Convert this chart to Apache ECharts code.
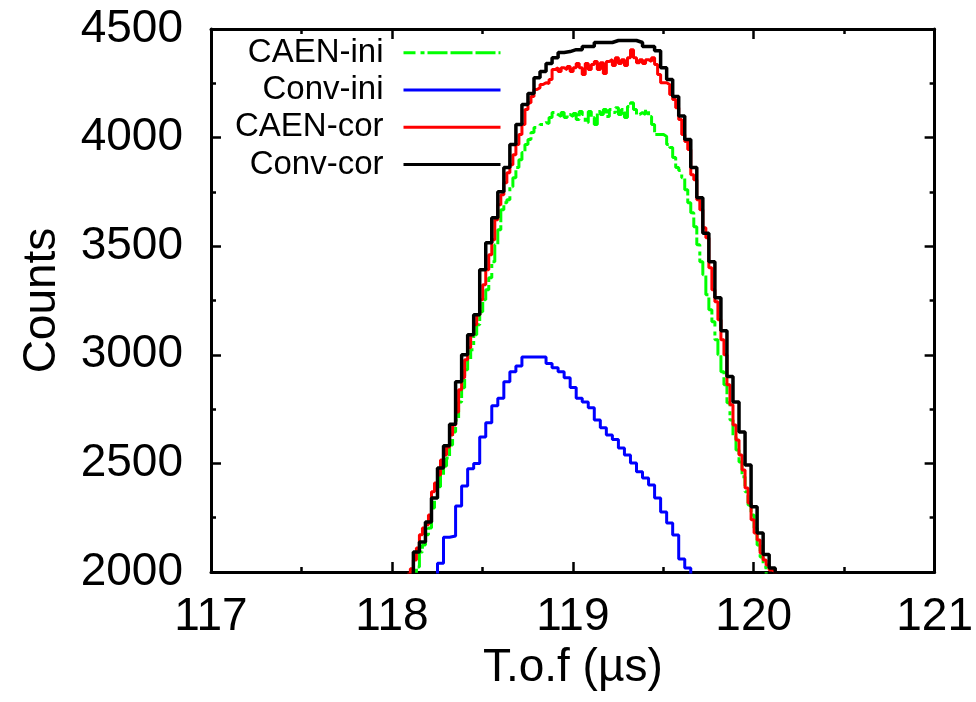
<!DOCTYPE html>
<html>
<head>
<meta charset="utf-8">
<script src="https://cdn.jsdelivr.net/npm/echarts@6/dist/echarts.min.js"></script>
<style>
  html, body { margin: 0; padding: 0; background: #ffffff; }
  #chart { width: 976px; height: 702px; }
</style>
</head>
<body>
<div id="chart"></div>
<script>
// ---------- data ----------
const seriesNames = ['CAEN-ini', 'Conv-ini', 'CAEN-cor', 'Conv-cor'];
const xTicks = [117, 118, 119, 120, 121];
const yTicks = [2000, 2500, 3000, 3500, 4000, 4500];

// histogram bin layout (µs)
const coarseStart = 118.0854;      // first coarse bin left edge
const coarseWidth = 1 / 30;        // Conv histograms bin width
const fineStart = 118.0854;        // first fine bin left edge
const fineWidth = 1 / 60;          // CAEN histograms bin width
const convIniStart = 118.2187;     // first listed Conv-ini bin

// Conv-cor (black), coarse bins
const convCor = [1950,
  2092, 2138, 2230, 2341, 2479, 2581, 2680, 2876, 3000, 3092,
  3184, 3392, 3516, 3631, 3751, 3862, 3968, 4060, 4152, 4203,
  4276, 4304, 4341, 4368, 4392, 4396, 4405, 4405, 4419, 4419,
  4438, 4438, 4438, 4447, 4447, 4447, 4447, 4438, 4419, 4419,
  4400, 4322, 4267, 4189, 4100, 3991, 3862, 3723, 3560, 3428,
  3263, 3111, 2900, 2783, 2645, 2493, 2300, 2180, 2080, 2018,
  1950];

// Conv-ini (blue), coarse bins
const convIni = [1960, 2040, 2160, 2166, 2304, 2396, 2475, 2500, 2622, 2687,
  2765, 2800, 2876, 2922, 2949, 2990, 2990, 2990, 2990, 2960,
  2940, 2922, 2894, 2850, 2800, 2783, 2756, 2700, 2664, 2631,
  2610, 2571, 2539, 2502, 2461, 2433, 2401, 2341, 2276, 2226,
  2170, 2060, 2018, 1950];

// CAEN-cor (red), fine bins
const caenCor = [1990, 2015,
  2055, 2110, 2171, 2203, 2217, 2263, 2369, 2410, 2447, 2516,
  2539, 2576, 2631, 2677, 2737, 2839, 2894, 2977, 3032, 3092,
  3138, 3184, 3253, 3322, 3392, 3461, 3530, 3622, 3691, 3737,
  3792, 3838, 3875, 3921, 3968, 4014, 4060, 4129, 4161, 4189,
  4221, 4230, 4244, 4253, 4249, 4267, 4313, 4322, 4304, 4322,
  4313, 4327, 4304, 4322, 4341, 4322, 4290, 4341, 4313, 4336,
  4350, 4313, 4345, 4295, 4350, 4359, 4332, 4368, 4341, 4359,
  4332, 4368, 4405, 4368, 4345, 4359, 4341, 4359, 4350, 4368,
  4336, 4290, 4253, 4253, 4244, 4198, 4175, 4138, 4083, 4014,
  3982, 3945, 3829, 3806, 3714, 3668, 3585, 3539, 3401, 3299,
  3244, 3161, 3069, 3000, 2862, 2770, 2677, 2608, 2539, 2470,
  2387, 2318, 2240, 2180, 2147, 2088, 2055, 2032, 2009, 2003,
  1980];

// CAEN-ini (green), fine bins
const caenIni = [1960, 1980,
  1990, 2023, 2092, 2124, 2171, 2203, 2295, 2332, 2392, 2447,
  2488, 2525, 2585, 2645, 2700, 2783, 2848, 2931, 2977, 3023,
  3092, 3138, 3198, 3253, 3299, 3355, 3428, 3507, 3576, 3668,
  3700, 3714, 3774, 3815, 3862, 3898, 3931, 3968, 3991, 4023,
  4046, 4050, 4060, 4069, 4065, 4092, 4115, 4106, 4097, 4115,
  4092, 4106, 4097, 4111, 4083, 4120, 4106, 4069, 4120, 4092,
  4060, 4120, 4106, 4129, 4097, 4129, 4115, 4138, 4106, 4129,
  4092, 4143, 4161, 4129, 4106, 4115, 4106, 4129, 4097, 4060,
  4014, 4014, 4014, 4005, 3968, 3954, 3908, 3862, 3848, 3815,
  3760, 3700, 3654, 3590, 3507, 3428, 3369, 3276, 3207, 3152,
  3069, 3000, 2922, 2862, 2779, 2700, 2622, 2562, 2507, 2438,
  2369, 2309, 2263, 2203, 2124, 2069, 2023,
  1980];

// ---------- build ----------
function toSteps(start, width, counts) {
  const pts = counts.map((c, i) => [start + i * width, c]);
  pts.push([start + counts.length * width, counts[counts.length - 1]]);
  return pts;
}

const FONT = '"Liberation Sans", Arial, Helvetica, sans-serif';
const chart = echarts.init(document.getElementById('chart'), null, { renderer: 'canvas' });

const axisLine = { show: true, onZero: false, lineStyle: { color: '#000', width: 3 } };
const tickMajor = { show: true, inside: true, length: 10, lineStyle: { color: '#000', width: 2.5 } };
const tickMinor = { show: true, splitNumber: 2, length: 5, lineStyle: { color: '#000', width: 2.5 } };
const plainNum = v => String(v);

const option = {
  backgroundColor: '#ffffff',
  animation: false,
  grid: { left: 211, right: 32, top: 29, bottom: 130, containLabel: false },
  legend: {
    data: seriesNames,
    orient: 'vertical',
    align: 'right',
    right: 474,
    top: 34,
    padding: 0,
    itemWidth: 97,
    itemHeight: 14,
    itemGap: 0,
    selectedMode: false,
    itemStyle: { color: 'rgba(0,0,0,0)', borderColor: 'rgba(0,0,0,0)', borderWidth: 0 },
    lineStyle: { width: 3 },
    textStyle: { fontFamily: FONT, fontSize: 33, color: '#000', lineHeight: 37.3, padding: [0, 15, 0, 0] }
  },
  xAxis: [
    {
      type: 'value', position: 'bottom', min: xTicks[0], max: xTicks[xTicks.length - 1], interval: 1,
      axisLine: axisLine, axisTick: tickMajor, minorTick: tickMinor,
      splitLine: { show: false }, minorSplitLine: { show: false },
      axisLabel: { fontFamily: FONT, fontSize: 46, color: '#000', margin: 22, formatter: plainNum },
      name: 'T.o.f (µs)', nameLocation: 'middle', nameGap: 70,
      nameTextStyle: { fontFamily: FONT, fontSize: 46, color: '#000' }
    },
    {
      type: 'value', position: 'top', min: xTicks[0], max: xTicks[xTicks.length - 1], interval: 1,
      axisLine: axisLine, axisTick: tickMajor, minorTick: tickMinor,
      splitLine: { show: false }, axisLabel: { show: false }
    }
  ],
  yAxis: [
    {
      type: 'value', position: 'left', min: yTicks[0], max: yTicks[yTicks.length - 1], interval: 500,
      axisLine: axisLine, axisTick: tickMajor, minorTick: tickMinor,
      splitLine: { show: false },
      axisLabel: { fontFamily: FONT, fontSize: 46, color: '#000', margin: 28, formatter: plainNum },
      name: 'Counts', nameLocation: 'middle', nameGap: 146, nameRotate: 90,
      nameTextStyle: { fontFamily: FONT, fontSize: 46, color: '#000' }
    },
    {
      type: 'value', position: 'right', min: yTicks[0], max: yTicks[yTicks.length - 1], interval: 500,
      axisLine: axisLine, axisTick: tickMajor, minorTick: tickMinor,
      splitLine: { show: false }, axisLabel: { show: false }
    }
  ],
  series: [
    {
      name: seriesNames[0], type: 'line', step: 'end', symbol: 'none', z: 2,
      data: toSteps(fineStart, fineWidth, caenIni),
      lineStyle: { color: '#00ff00', width: 3, type: [12, 5, 4, 3, 20, 3, 22, 3, 20, 3] },
      itemStyle: { color: '#00ff00' }
    },
    {
      name: seriesNames[1], type: 'line', step: 'end', symbol: 'none', z: 4,
      data: toSteps(convIniStart, coarseWidth, convIni),
      lineStyle: { color: '#0000ff', width: 3 },
      itemStyle: { color: '#0000ff' }
    },
    {
      name: seriesNames[2], type: 'line', step: 'end', symbol: 'none', z: 3,
      data: toSteps(fineStart, fineWidth, caenCor),
      lineStyle: { color: '#ff0000', width: 3 },
      itemStyle: { color: '#ff0000' }
    },
    {
      name: seriesNames[3], type: 'line', step: 'end', symbol: 'none', z: 5,
      data: toSteps(coarseStart, coarseWidth, convCor),
      lineStyle: { color: '#000000', width: 3.5 },
      itemStyle: { color: '#000000' }
    }
  ]
};
chart.setOption(option);
</script>
</body>
</html>
